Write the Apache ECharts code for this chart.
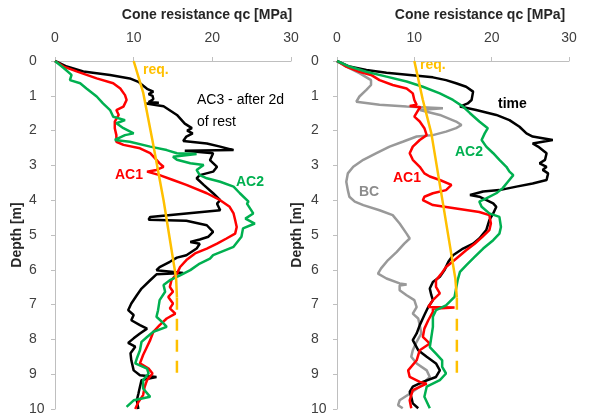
<!DOCTYPE html>
<html>
<head>
<meta charset="utf-8">
<script src="https://cdn.jsdelivr.net/npm/echarts@6/dist/echarts.min.js"></script>
<style>html,body{margin:0;padding:0;background:#fff}#c{width:589px;height:416px}</style>
</head>
<body>
<div id="c"></div>
<script>
// Data as [depth (m), qc (MPa)]
const xTicks = [0, 10, 20, 30];
const depthTicks = [0,1,2,3,4,5,6,7,8,9,10];

// Left panel
const leftAC3 = [[0,0],[0.16,1.5],[0.3,3.6],[0.4,7],[0.5,9.5],[0.6,10.6],[0.8,11.7],[0.88,12.5],[0.95,11.9],[1.0,12.4],[1.1,12.5],[1.18,11.9],[1.2,13.2],[1.22,11.6],[1.3,13.8],[1.55,15.5],[1.8,16.5],[1.93,17.4],[2.0,16.8],[2.08,17.5],[2.17,16.7],[2.3,16.3],[2.37,19.3],[2.46,21],[2.56,22.7],[2.58,16.5],[2.65,20.1],[2.85,19.7],[3.04,20.6],[3.18,20.1],[3.28,18.4],[3.37,18],[3.56,18.9],[3.8,20.1],[4.0,21],[4.1,20.6],[4.29,21],[4.38,16.7],[4.48,12.1],[4.56,11.9],[4.59,16.7],[4.72,19.3],[4.91,20.1],[5.05,19.5],[5.13,18.4],[5.2,17.2],[5.25,18.4],[5.39,18],[5.58,16.7],[5.65,15.5],[5.77,14.6],[5.92,13.3],[6.01,12.9],[6.09,16.3],[6.13,12.9],[6.3,12.1],[6.54,11],[6.73,10.4],[6.97,9.7],[7.16,9.3],[7.3,10],[7.45,9.7],[7.59,10.8],[7.69,11.7],[7.83,10.8],[7.97,10],[8.1,9.3],[8.21,10.2],[8.4,9.6],[8.6,9.7],[8.89,10],[9.03,10.8],[9.08,12.9],[9.17,11],[9.36,10.8],[9.56,10.6],[9.75,10.4],[10,10.6]];
const leftAC1 = [[0,0],[0.16,1.1],[0.3,2.75],[0.5,5.3],[0.64,7.4],[0.79,8.3],[0.98,8.9],[1.12,9.1],[1.31,8.7],[1.41,7.8],[1.55,8.1],[1.74,7.6],[1.93,7.6],[2.13,7.8],[2.32,7.8],[2.41,8.7],[2.51,10.8],[2.65,12.1],[2.84,12.9],[2.94,13.3],[3.04,13.8],[3.13,12.9],[3.18,11.7],[3.28,13.3],[3.42,15],[3.56,16.7],[3.8,19.3],[4.0,21],[4.19,22.2],[4.38,22.7],[4.57,22.9],[4.77,23.1],[4.96,22.9],[5.1,21.8],[5.25,20.6],[5.39,19.3],[5.53,17.8],[5.72,16.7],[5.92,15.9],[6.11,15.5],[6.3,14.8],[6.49,14.6],[6.63,15],[6.78,14.4],[6.97,15],[7.11,14.6],[7.26,15.3],[7.4,14.2],[7.59,13.3],[7.78,12.5],[8.02,12.1],[8.21,11.7],[8.45,11.2],[8.69,10.8],[8.84,11.9],[8.98,12.4],[9.17,11.7],[9.36,11.4],[9.6,11.2],[9.8,10.6],[10,10.2]];
const leftAC2 = [[0,0],[0.2,1.1],[0.4,2.1],[0.55,1.9],[0.64,3.2],[0.79,4],[1.02,5.3],[1.22,6.1],[1.41,7],[1.6,7.4],[1.7,8.9],[1.79,7.8],[1.93,8.7],[2.08,10],[2.13,8.9],[2.27,7.6],[2.32,9.5],[2.46,12.1],[2.56,14.2],[2.65,15.5],[2.67,18],[2.75,15],[2.84,15.5],[2.94,17.2],[2.99,18.9],[3.13,18],[3.28,18.4],[3.37,19.3],[3.47,21],[3.61,22.7],[3.8,23.5],[4.04,24.6],[4.1,24.4],[4.38,25.2],[4.53,24.2],[4.67,25.4],[4.81,23.9],[5.05,23.7],[5.34,22.7],[5.58,20.1],[5.68,19.7],[5.82,18.4],[6.01,17.2],[6.16,15.9],[6.3,14.6],[6.44,13.8],[6.63,14],[6.87,13.3],[7.16,13.1],[7.35,12.9],[7.54,13.8],[7.64,14.2],[7.78,12.5],[7.93,11.7],[8.07,11],[8.31,10.8],[8.55,10.4],[8.69,10.2],[8.84,11.7],[8.98,11.9],[9.17,11.2],[9.41,11.2],[9.65,12.1],[9.75,10],[9.94,9.1]];
const leftReq = [[0,10],[0.9,11.2],[2.3,12.4],[4,13.8],[6.25,15.4],[6.8,15.5]];
const leftReqDashed = [[6.8,15.5],[9.0,15.5]];

// Right panel
const rightTime = [[0,0],[0.16,1.6],[0.26,3.8],[0.34,6.4],[0.4,9.4],[0.47,12.4],[0.55,14.1],[0.64,15.4],[0.74,16.7],[0.88,17.6],[1.12,17.4],[1.22,16.9],[1.31,15.9],[1.41,18],[1.55,20.6],[1.7,22.3],[1.89,23.6],[2.08,24.5],[2.17,25.3],[2.27,27.9],[2.37,25.3],[2.46,26],[2.65,27.1],[2.84,26.9],[2.94,26.2],[3.04,27.1],[3.13,26.6],[3.23,27.3],[3.42,27.1],[3.52,25.3],[3.61,23.2],[3.71,21],[3.75,18.9],[3.85,17.2],[3.9,18.4],[4.09,20.2],[4.19,20.6],[4.38,20.2],[4.57,19.7],[4.86,19.3],[5.1,18.4],[5.25,17.6],[5.39,16.3],[5.58,15],[5.77,14.4],[6.01,13.9],[6.2,13.3],[6.35,12.4],[6.54,12],[6.73,12.2],[6.87,12.4],[7.07,11.8],[7.3,11.3],[7.59,10.7],[7.83,10.3],[8.02,9.8],[8.31,10.5],[8.5,11.6],[8.69,12.8],[8.89,13.3],[9.08,12.8],[9.22,11.1],[9.36,9.8],[9.51,9.4],[9.65,9.6],[9.84,9.8],[9.98,10.5]];
const rightAC1 = [[0,0],[0.16,1.2],[0.31,2.9],[0.4,4.4],[0.55,5.5],[0.69,7.2],[0.79,9],[0.93,9.8],[1.12,10],[1.26,10.3],[1.29,9.4],[1.33,10.8],[1.41,10.5],[1.6,10],[1.74,10.7],[1.93,11.3],[2.13,11.6],[2.27,10.7],[2.46,9.8],[2.65,9.4],[2.84,9.8],[3.04,10.7],[3.23,11.3],[3.32,12],[3.42,13.3],[3.56,14.8],[3.71,14.1],[3.8,12.4],[3.9,11.3],[4.0,11.1],[4.14,12.4],[4.24,15.4],[4.34,18.4],[4.43,19.7],[4.67,19.9],[4.86,19.7],[5.05,18.8],[5.25,17.8],[5.44,16.7],[5.68,15.4],[5.92,14.1],[6.11,13.5],[6.3,12.8],[6.49,12.8],[6.68,13.3],[6.87,12.4],[7.07,11.8],[7.08,15.2],[7.12,12.4],[7.21,12.4],[7.45,11.8],[7.69,11.3],[7.93,11.1],[8.12,12],[8.31,10.7],[8.6,10.3],[8.89,9.2],[9.08,9.4],[9.22,10.7],[9.27,11.6],[9.46,9.8],[9.75,9.4],[9.98,9.6]];
const rightAC2 = [[0,0],[0.16,1.6],[0.31,3.8],[0.45,6.4],[0.59,9],[0.74,11.1],[0.93,13.3],[1.12,15],[1.31,16.3],[1.5,17.2],[1.74,18.4],[1.93,19.5],[2.08,19.1],[2.27,18.7],[2.46,19.3],[2.65,20.2],[2.84,21],[3.04,21.9],[3.18,22.3],[3.28,22.8],[3.47,22.1],[3.66,21.4],[3.8,20.6],[3.95,19.3],[4.04,18.4],[4.19,18.7],[4.38,19.7],[4.48,21],[4.77,21.2],[4.96,21],[5.15,20.2],[5.39,18.9],[5.63,17.8],[5.87,16.7],[6.06,15.9],[6.3,15.6],[6.54,15.4],[6.78,15.2],[7.02,14.1],[7.16,12.8],[7.35,12.4],[7.64,12.4],[7.93,12.2],[8.22,12],[8.41,12.8],[8.6,13.6],[8.79,13.6],[8.98,14.1],[9.17,13.3],[9.36,11.6],[9.65,11.3],[9.98,12]];
const rightBC = [[0,0],[0.16,1.2],[0.35,2.9],[0.55,4.4],[0.69,4.4],[0.83,3.8],[1.02,2.9],[1.17,2.5],[1.26,5.5],[1.31,9],[1.36,13.7],[1.41,10.7],[1.55,13.3],[1.74,15.4],[1.84,16.1],[1.93,15.4],[2.03,14.1],[2.13,12.4],[2.17,10.3],[2.32,8.5],[2.46,6.8],[2.65,5.1],[2.84,3.4],[3.04,2.1],[3.23,1.4],[3.47,1.2],[3.71,1.4],[3.9,1.6],[4.04,2.3],[4.14,3.4],[4.29,5.5],[4.43,7.2],[4.67,8.1],[4.96,9],[5.1,9.4],[5.25,8.7],[5.49,7.7],[5.72,6.6],[5.96,5.7],[6.11,5.3],[6.25,6.4],[6.39,8.1],[6.42,9],[6.45,8.1],[6.59,8.1],[6.73,9],[6.87,10],[7.07,10.3],[7.26,9.8],[7.4,10.5],[7.59,10.7],[7.83,10.9],[8.07,10.3],[8.31,9.8],[8.5,9.6],[8.69,10.3],[8.89,11.6],[9.08,12],[9.36,10.7],[9.56,9.4],[9.75,8.1],[9.89,7.9],[9.98,8.5]];
const rightReq = [[0,10],[1.12,11.1],[2.08,12.2],[4.09,13.7],[6.25,15.3],[6.8,15.5]];
const rightReqDashed = [[6.8,15.5],[9.0,15.5]];

const C = {black:'#000000', red:'#ff0000', green:'#00b050', gray:'#999999', orange:'#ffc000'};
const FONT = 'Liberation Sans, Arial, sans-serif';
const toXY = arr => arr.map(p => [p[1], p[0]]);

function xAx(gi){
  return {gridIndex:gi, type:'value', position:'top', min:xTicks[0], max:xTicks[xTicks.length-1], interval:10,
    axisLine:{show:true, lineStyle:{color:'#bfbfbf', width:1}},
    axisTick:{show:true, length:4, lineStyle:{color:'#bfbfbf'}},
    axisLabel:{color:'#404040', fontSize:14, fontFamily:FONT, margin:16},
    splitLine:{show:false}};
}
function yAx(gi){
  return {gridIndex:gi, type:'value', inverse:true, min:depthTicks[0], max:depthTicks[depthTicks.length-1], interval:1,
    axisLine:{show:true, onZero:false, lineStyle:{color:'#bfbfbf', width:1}},
    axisTick:{show:true, length:4, lineStyle:{color:'#bfbfbf'}},
    axisLabel:{color:'#404040', fontSize:14, fontFamily:FONT, margin:26, align:'left'},
    splitLine:{show:false}};
}
function line(gi, data, color, dashed){
  return {type:'line', xAxisIndex:gi, yAxisIndex:gi, data:toXY(data), showSymbol:false, symbol:'none',
    lineStyle:{color:color, width:2.5, type: dashed ? [12,9] : 'solid'}, silent:true, z: 2};
}
function txt(x, y, text, color, bold, align){
  return {type:'text', x:x, y:y, style:{text:text, fill:color, font:(bold?'bold ':'')+'14px '+FONT, textAlign:align||'left', textVerticalAlign:'middle'}};
}

const chart = echarts.init(document.getElementById('c'), null, {renderer:'canvas'});
chart.setOption({
  animation:false,
  backgroundColor:'#ffffff',
  grid:[{left:55, top:61, width:236, height:348}, {left:337, top:61, width:232, height:348}],
  xAxis:[xAx(0), xAx(1)],
  yAxis:[yAx(0), yAx(1)],
  series:[
    line(0, leftAC3, C.black), line(0, leftAC1, C.red), line(0, leftAC2, C.green),
    line(0, leftReq, C.orange), line(0, leftReqDashed, C.orange, true),
    line(1, rightBC, C.gray), line(1, rightTime, C.black), line(1, rightAC1, C.red), line(1, rightAC2, C.green),
    line(1, rightReq, C.orange), line(1, rightReqDashed, C.orange, true)
  ],
  graphic:[
    txt(207, 15, 'Cone resistance qc [MPa]', '#262626', true, 'center'),
    txt(480, 15, 'Cone resistance qc [MPa]', '#262626', true, 'center'),
    {type:'text', x:17, y:235, rotation:Math.PI/2, style:{text:'Depth [m]', fill:'#262626', font:'bold 14px '+FONT, textAlign:'center', textVerticalAlign:'middle'}},
    {type:'text', x:297, y:235, rotation:Math.PI/2, style:{text:'Depth [m]', fill:'#262626', font:'bold 14px '+FONT, textAlign:'center', textVerticalAlign:'middle'}},
    txt(143, 70, 'req.', C.orange, true),
    txt(197, 100, 'AC3 - after 2d', '#000000', false),
    txt(197, 122, 'of rest', '#000000', false),
    txt(115, 175, 'AC1', C.red, true),
    txt(236, 182, 'AC2', C.green, true),
    txt(420, 65, 'req.', C.orange, true),
    txt(498, 104, 'time', '#000000', true),
    txt(455, 152, 'AC2', C.green, true),
    txt(393, 178, 'AC1', C.red, true),
    txt(359, 192, 'BC', '#8c8c8c', true)
  ]
});
</script>
</body>
</html>
